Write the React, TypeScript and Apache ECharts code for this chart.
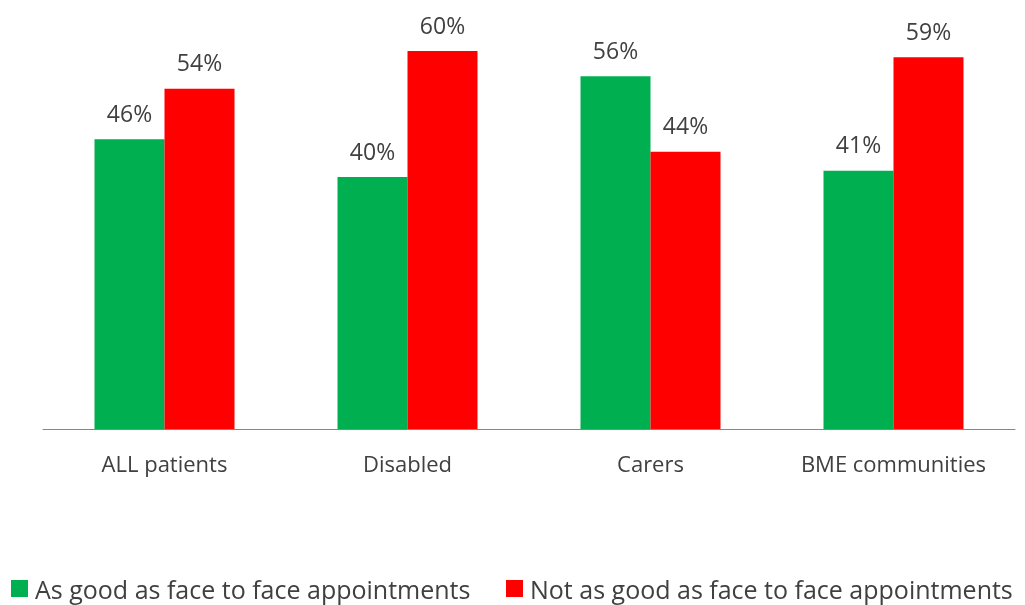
import React, { useEffect, useRef } from "react";
import * as echarts from "echarts";

const categories = ["ALL patients", "Disabled", "Carers", "BME communities"];
const seriesNames = ["As good as face to face appointments", "Not as good as face to face appointments"];
const asGood = [46, 40, 56, 41];
const notAsGood = [54, 60, 44, 59];

const FONT = "'Open Sans', sans-serif";
const TEXT = "#404040";

export default function App() {
  const ref = useRef<HTMLDivElement>(null);
  useEffect(() => {
    if (!ref.current) return;
    const chart = echarts.init(ref.current, null, { renderer: "svg" });
    const legendBase = {
      top: 571,
      itemWidth: 17,
      itemHeight: 17,
      icon: "rect",
      textStyle: { fontFamily: FONT, fontSize: 25, color: TEXT, padding: [0, 0, 0, 2] },
    };
    chart.setOption({
      animation: false,
      textStyle: { fontFamily: FONT, color: TEXT },
      grid: { left: 43, right: 10, top: 51, bottom: 176 },
      legend: [
        { ...legendBase, left: 6, data: [seriesNames[0]] },
        { ...legendBase, left: 501, data: [seriesNames[1]] },
      ],
      xAxis: {
        type: "category",
        data: categories,
        axisLine: { lineStyle: { color: "#868686", width: 1 } },
        axisTick: { show: false },
        axisLabel: { fontFamily: FONT, fontSize: 22, color: TEXT, margin: 23 },
      },
      yAxis: {
        type: "value",
        min: 0,
        max: 60,
        show: false,
        splitLine: { show: false },
      },
      series: [
        {
          name: seriesNames[0],
          type: "bar",
          data: asGood,
          barWidth: 70,
          barGap: "0%",
          itemStyle: { color: "#00B050" },
          label: { show: true, position: "top", distance: 15, formatter: "{c}%", fontFamily: FONT, fontSize: 23, color: TEXT },
        },
        {
          name: seriesNames[1],
          type: "bar",
          data: notAsGood,
          barWidth: 70,
          barGap: "0%",
          itemStyle: { color: "#FF0000" },
          label: { show: true, position: "top", distance: 15, formatter: "{c}%", fontFamily: FONT, fontSize: 23, color: TEXT },
        },
      ],
    });
    return () => chart.dispose();
  }, []);
  return <div ref={ref} style={{ position: "fixed", left: 0, top: 0, width: 1025, height: 605 }} />;
}
